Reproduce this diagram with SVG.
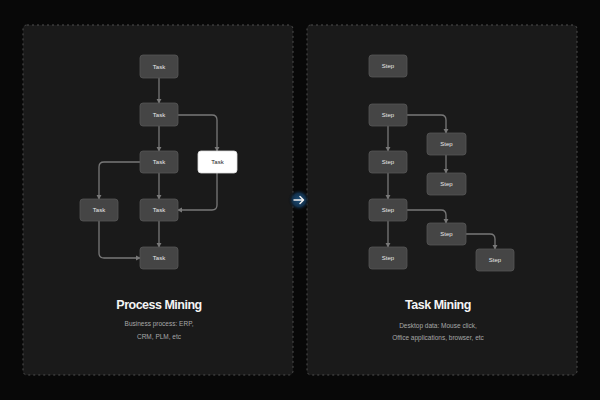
<svg xmlns="http://www.w3.org/2000/svg" width="600" height="400" viewBox="0 0 600 400">
<defs>
<style>
.panel{fill:#1a1a1a;stroke:#4e4e4e;stroke-width:1;stroke-dasharray:2 3}
.node rect{fill:#454545;stroke:#575757;stroke-width:0.8}
.node text{fill:#e8e8e8;font-family:"Liberation Sans",Arial,sans-serif;font-size:6px;text-anchor:middle}
.hl rect{fill:#ffffff;stroke:#ddd}
.hl text{fill:#222}
.conn path{fill:none;stroke:#787878;stroke-width:1.3;marker-end:url(#ah)}
.title{fill:#f4f4f4;font-family:"Liberation Sans",Arial,sans-serif;font-size:12.5px;font-weight:bold;text-anchor:middle;letter-spacing:-0.5px}
.sub{fill:#a8a8a8;font-family:"Liberation Sans",Arial,sans-serif;font-size:6.5px;text-anchor:middle}
</style>
<marker id="ah" viewBox="0 0 6 6" refX="5" refY="3" markerWidth="4" markerHeight="4" orient="auto">
<path d="M0,0 L6,3 L0,6 z" fill="#787878"/>
</marker>
<radialGradient id="glow">
<stop offset="0" stop-color="#1d4f7a"/>
<stop offset="0.6" stop-color="#12314d"/>
<stop offset="1" stop-color="#080808" stop-opacity="0"/>
</radialGradient>
</defs>
<rect x="0" y="0" width="600" height="400" fill="#080808"/>
<rect class="panel" x="23" y="25" width="270" height="350" rx="4"/>
<rect class="panel" x="307" y="25" width="270" height="350" rx="4"/>

<g id="connectors" class="conn">
<path d="M159,78 V103"/>
<path d="M159,126 V151"/>
<path d="M178,115 H212 Q217,115 217,120 V151"/>
<path d="M140,162 H104 Q99,162 99,167 V199"/>
<path d="M159,173 V199"/>
<path d="M217,173 V205 Q217,210 212,210 H178"/>
<path d="M159,221 V247"/>
<path d="M99,221 V253 Q99,258 104,258 H140"/>
<path d="M388,126 V151"/>
<path d="M388,173 V199"/>
<path d="M388,221 V247"/>
<path d="M407,115 H441 Q446,115 446,120 V133"/>
<path d="M446,155 V173"/>
<path d="M407,210 H441 Q446,210 446,215 V223"/>
<path d="M466,234 H490 Q495,234 495,239 V249"/>
</g>

<g id="pm-1" class="node"><rect x="140" y="55" width="38" height="23" rx="3"/><text x="159" y="68.5">Task</text></g>
<g id="pm-2" class="node"><rect x="140" y="103" width="38" height="23" rx="3"/><text x="159" y="116.5">Task</text></g>
<g id="pm-3" class="node"><rect x="140" y="151" width="38" height="22" rx="3"/><text x="159" y="164">Task</text></g>
<g id="pm-4" class="node hl"><rect x="198" y="151" width="39" height="22" rx="3"/><text x="217.5" y="164">Task</text></g>
<g id="pm-5" class="node"><rect x="80" y="199" width="38" height="22" rx="3"/><text x="99" y="212">Task</text></g>
<g id="pm-6" class="node"><rect x="140" y="199" width="38" height="22" rx="3"/><text x="159" y="212">Task</text></g>
<g id="pm-7" class="node"><rect x="140" y="247" width="38" height="22" rx="3"/><text x="159" y="260">Task</text></g>

<g id="tm-1" class="node"><rect x="369" y="55" width="38" height="22" rx="3"/><text x="388" y="68">Step</text></g>
<g id="tm-2" class="node"><rect x="369" y="104" width="38" height="22" rx="3"/><text x="388" y="117">Step</text></g>
<g id="tm-3" class="node"><rect x="369" y="151" width="38" height="22" rx="3"/><text x="388" y="164">Step</text></g>
<g id="tm-4" class="node"><rect x="369" y="199" width="38" height="22" rx="3"/><text x="388" y="212">Step</text></g>
<g id="tm-5" class="node"><rect x="369" y="247" width="38" height="22" rx="3"/><text x="388" y="260">Step</text></g>
<g id="tm-6" class="node"><rect x="427" y="133" width="39" height="22" rx="3"/><text x="446.5" y="146">Step</text></g>
<g id="tm-7" class="node"><rect x="427" y="173" width="39" height="22" rx="3"/><text x="446.5" y="186">Step</text></g>
<g id="tm-8" class="node"><rect x="427" y="223" width="39" height="22" rx="3"/><text x="446.5" y="236">Step</text></g>
<g id="tm-9" class="node"><rect x="476" y="249" width="38" height="22" rx="3"/><text x="495" y="262">Step</text></g>

<text class="title" x="159" y="309">Process Mining</text>
<text class="sub" x="159" y="326">Business process: ERP,</text>
<text class="sub" x="159" y="339">CRM, PLM, etc</text>
<text class="title" x="438" y="309">Task Mining</text>
<text class="sub" x="438" y="328">Desktop data: Mouse click,</text>
<text class="sub" x="438" y="340">Office applications, browser, etc</text>

<g id="switch">
<circle cx="299" cy="200" r="11" fill="url(#glow)"/>
<path d="M294,200 H303 M300,196.5 L303.5,200 L300,203.5" fill="none" stroke="#f0f0f0" stroke-width="1.5" stroke-linecap="round" stroke-linejoin="round"/>
</g>
</svg>
